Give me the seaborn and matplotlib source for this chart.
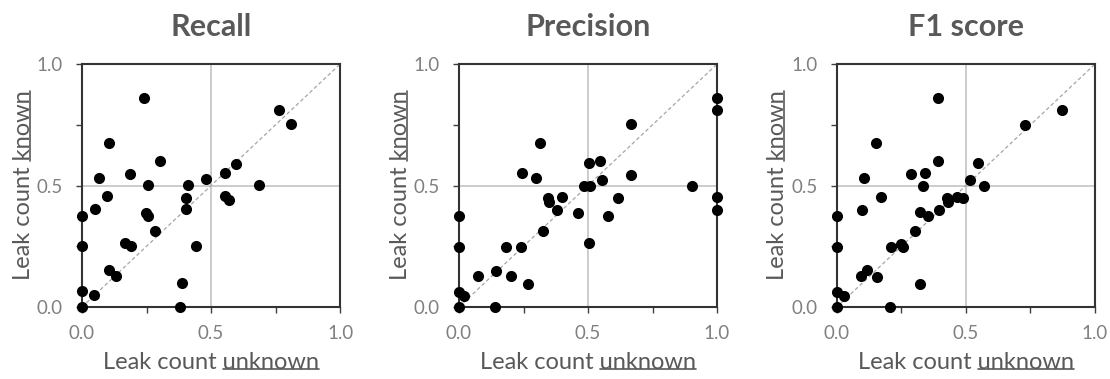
import numpy as np
import pandas as pd
import matplotlib
matplotlib.use("Agg")
import matplotlib.pyplot as plt
from matplotlib.lines import Line2D
import seaborn as sns

titles = ["Recall", "Precision", "F1 score"]

recall_x = [0.242, 0.765, 0.808, 0.105, 0.301, 0.595, 0.555, 0.184, 0.065, 0.481,
            0.255, 0.412, 0.686, 0.095, 0.403, 0.553, 0.568, 0.049, 0.401, 0.249,
            0.255, 0.0, 0.284, 0.165, 0.191, 0.442, 0.0, 0.104, 0.130, 0.387,
            0.0, 0.045, 0.0, 0.379]
recall_y = [0.860, 0.812, 0.752, 0.674, 0.601, 0.590, 0.550, 0.547, 0.530, 0.525,
            0.502, 0.502, 0.502, 0.457, 0.450, 0.457, 0.439, 0.402, 0.402, 0.388,
            0.376, 0.376, 0.314, 0.265, 0.250, 0.252, 0.252, 0.151, 0.127, 0.098,
            0.065, 0.048, 0.0, 0.0]

precision_x = [1.0, 1.0, 0.667, 0.315, 0.502, 0.548, 0.245, 0.667, 0.300, 0.555,
               0.484, 0.506, 0.902, 0.345, 0.347, 0.400, 0.617, 1.0, 1.0, 0.381,
               0.462, 0.577, 0.0, 0.324, 0.503, 0.183, 0.241, 0.0, 0.145, 0.075,
               0.200, 0.268, 0.0, 0.019, 0.0, 0.138]
precision_y = [0.860, 0.812, 0.752, 0.674, 0.591, 0.601, 0.550, 0.543, 0.530, 0.523,
               0.499, 0.499, 0.499, 0.450, 0.433, 0.454, 0.450, 0.454, 0.399, 0.399,
               0.388, 0.374, 0.374, 0.312, 0.264, 0.248, 0.248, 0.248, 0.147, 0.127,
               0.127, 0.095, 0.062, 0.045, 0.0, 0.0]

f1_x = [0.390, 0.871, 0.730, 0.153, 0.391, 0.545, 0.287, 0.343, 0.103, 0.517,
        0.334, 0.570, 0.171, 0.425, 0.431, 0.465, 0.488, 0.099, 0.323, 0.352,
        0.395, 0.0, 0.301, 0.210, 0.247, 0.256, 0.0, 0.118, 0.094, 0.155,
        0.321, 0.0, 0.029, 0.0, 0.204]
f1_y = [0.860, 0.809, 0.748, 0.674, 0.601, 0.591, 0.546, 0.550, 0.530, 0.523,
        0.499, 0.499, 0.454, 0.450, 0.433, 0.451, 0.450, 0.399, 0.389, 0.374,
        0.399, 0.374, 0.314, 0.248, 0.261, 0.245, 0.248, 0.151, 0.127, 0.124,
        0.095, 0.062, 0.045, 0.0, 0.0]

tick_vals = [0.0, 0.25, 0.5, 0.75, 1.0]
tick_labels = ["0.0", "", "0.5", "", "1.0"]
xlabel_pre, xlabel_word = "Leak count ", "unknown"
ylabel_pre, ylabel_word = "Leak count ", "known"

sns.set_theme(style="white")
plt.rcParams["font.family"] = ["Lato", "DejaVu Sans"]

fig = plt.figure(figsize=(11.1, 3.79), dpi=100)
lefts = [0.0739, 0.4135, 0.754]
data = [(recall_x, recall_y), (precision_x, precision_y), (f1_x, f1_y)]
gray_dark = "#595959"
gray_tick = "#808080"
label_size = 17

labels = []
for i, (title, (xs, ys)) in enumerate(zip(titles, data)):
    ax = fig.add_axes([lefts[i], 0.19, 0.2325, 0.641])
    df = pd.DataFrame({"unknown": xs, "known": ys})
    ax.axvline(0.5, color="#c8c8c8", lw=1.3, zorder=0)
    ax.axhline(0.5, color="#c8c8c8", lw=1.3, zorder=0)
    ax.plot([0, 1], [0, 1], ls=(0, (3, 2)), color="#a6a6a6", lw=0.9, zorder=1)
    sns.scatterplot(data=df, x="unknown", y="known", ax=ax, color="black",
                    s=64, edgecolor="black", linewidth=0, clip_on=False, zorder=3)
    ax.set_xlim(0, 1)
    ax.set_ylim(0, 1)
    ax.set_xticks(tick_vals)
    ax.set_xticklabels(tick_labels)
    ax.set_yticks(tick_vals)
    ax.set_yticklabels(tick_labels)
    ax.tick_params(axis="both", direction="out", length=4, width=1,
                   color="#404040", labelsize=13.5, labelcolor=gray_tick,
                   bottom=True, left=True)
    ax.tick_params(axis="x", pad=9)
    ax.tick_params(axis="y", pad=10)
    for sp in ax.spines.values():
        sp.set_color("#333333")
        sp.set_linewidth(1.5)
    xl = ax.set_xlabel(xlabel_pre + xlabel_word, fontsize=label_size,
                       color=gray_dark, labelpad=7)
    yl = ax.set_ylabel(ylabel_pre + ylabel_word, fontsize=label_size,
                       color=gray_dark, labelpad=2)
    labels.append((xl, yl))
    ax.set_title(title, fontsize=22, fontweight="bold", color=gray_dark, pad=20)

fig.canvas.draw()
renderer = fig.canvas.get_renderer()
W, H = fig.bbox.width, fig.bbox.height


def word_width(word):
    t = fig.text(0, 0, word, fontsize=label_size)
    w = t.get_window_extent(renderer).width
    t.remove()
    return w


wx = word_width(xlabel_word)
wy = word_width(ylabel_word)
for xl, yl in labels:
    bb = xl.get_window_extent(renderer)
    y = bb.y0 + 4
    fig.add_artist(Line2D([(bb.x1 - wx) / W, bb.x1 / W], [y / H, y / H],
                          color=gray_dark, lw=1.2, transform=fig.transFigure))
    bb = yl.get_window_extent(renderer)
    x = bb.x1 - 4
    fig.add_artist(Line2D([x / W, x / W], [(bb.y1 - wy) / H, bb.y1 / H],
                          color=gray_dark, lw=1.2, transform=fig.transFigure))

fig.savefig("out.png", dpi=100)
